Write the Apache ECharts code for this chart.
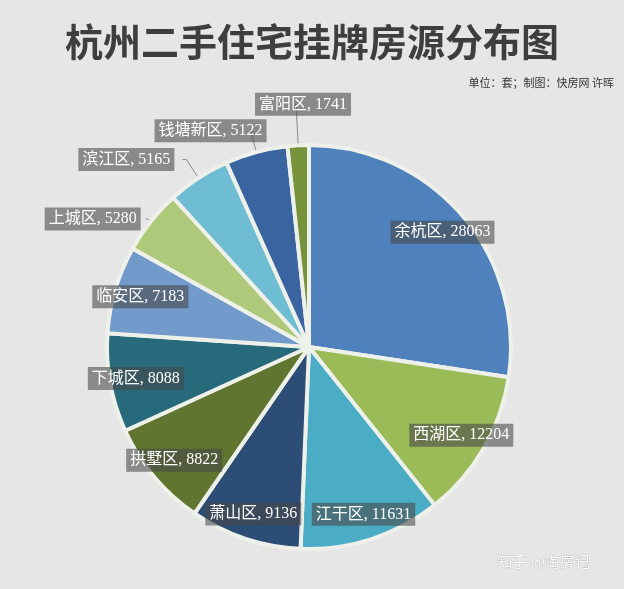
<!DOCTYPE html>
<html><head><meta charset="utf-8">
<script src="https://cdn.jsdelivr.net/npm/echarts@6/dist/echarts.min.js"></script>
<style>html,body{margin:0;padding:0;background:#e6e6e6}#c{width:624px;height:589px}</style>
</head><body><div id="c"></div>
<script>
// ---- data ----
const districts = ['余杭区','西湖区','江干区','萧山区','拱墅区','下城区','临安区','上城区','滨江区','钱塘新区','富阳区'];
const counts = [28063,12204,11631,9136,8822,8088,7183,5280,5165,5122,1741];
const titleText = '杭州二手住宅挂牌房源分布图';
const noteText = '单位：套；制图：快房网 许晖';
const creditText = '知乎 @淘房记';

// ---- styling ----
const colors = ['#4f81bd','#9bbb59','#4bacc6','#2c4d75','#5f7530','#276a7c','#729aca','#afc97a','#6fbdd3','#3a64a0','#77933c'];
const outerNames = {'上城区':[4,2,-5],'滨江区':[22,4,-8],'钱塘新区':[22,1,17],'富阳区':[41,1,56]};
const labelFont = "'Liberation Serif','Noto Sans CJK SC',serif";
const labelBox = {
  color:'#fff', fontSize:16, fontFamily:labelFont,
  backgroundColor:'rgba(70,70,70,0.58)', padding:[4,4,3,4],
  formatter: p => p.name + ', ' + p.value
};
const center = [309, 347];

const mainData = districts.map((n,i)=>{
  const o = outerNames[n];
  return {
    name:n, value:counts[i],
    itemStyle:{color:colors[i]},
    label: o ? {show:true} : {show:false},
    labelLine: o ? {show:true, length:o[0], length2:o[1]} : {show:false}
  };
});
const innerData = districts.map((n,i)=>({
  name:n, value:counts[i],
  label:{show: !outerNames[n]}
}));

const chart = echarts.init(document.getElementById('c'), null, {renderer:'canvas'});
chart.setOption({
  backgroundColor:'#e6e6e6',
  animation:false,
  title:{text:titleText, left:'center', top:18,
    textStyle:{fontSize:38, fontWeight:'bold', color:'#3e3e3e', fontFamily:'Noto Sans CJK SC'}},
  graphic:[
    {type:'text', right:10, top:77, style:{text:noteText, fontSize:11, fill:'#333', fontFamily:'Noto Sans CJK SC'}},
    {type:'text', left:497, top:553, style:{text:creditText, fontSize:15, fill:'#fbfbfb', stroke:'#b5b5b5', lineWidth:0.6, fontFamily:'Noto Sans CJK SC'}}
  ],
  series:[
    {
      type:'pie', center:center, radius:[0,202], startAngle:90, clockwise:true,
      avoidLabelOverlap:true, silent:true,
      itemStyle:{borderColor:'#eef1ea', borderWidth:4},
      label:Object.assign({position:'outside', distanceToLabelLine:0}, labelBox),
      labelLine:{lineStyle:{color:'#8a8a8a', width:1}, smooth:false},
      labelLayout: p => {
        const o = outerNames[districts[p.dataIndex]];
        return o && o[2] ? {dx:o[2]} : {};
      },
      data:mainData
    },
    {
      type:'pie', center:center, radius:[0,346], startAngle:90, clockwise:true,
      silent:true, z:5,
      itemStyle:{color:'rgba(0,0,0,0)', borderWidth:0},
      label:Object.assign({position:'inside'}, labelBox),
      labelLine:{show:false},
      data:innerData
    }
  ]
});
</script></body></html>
